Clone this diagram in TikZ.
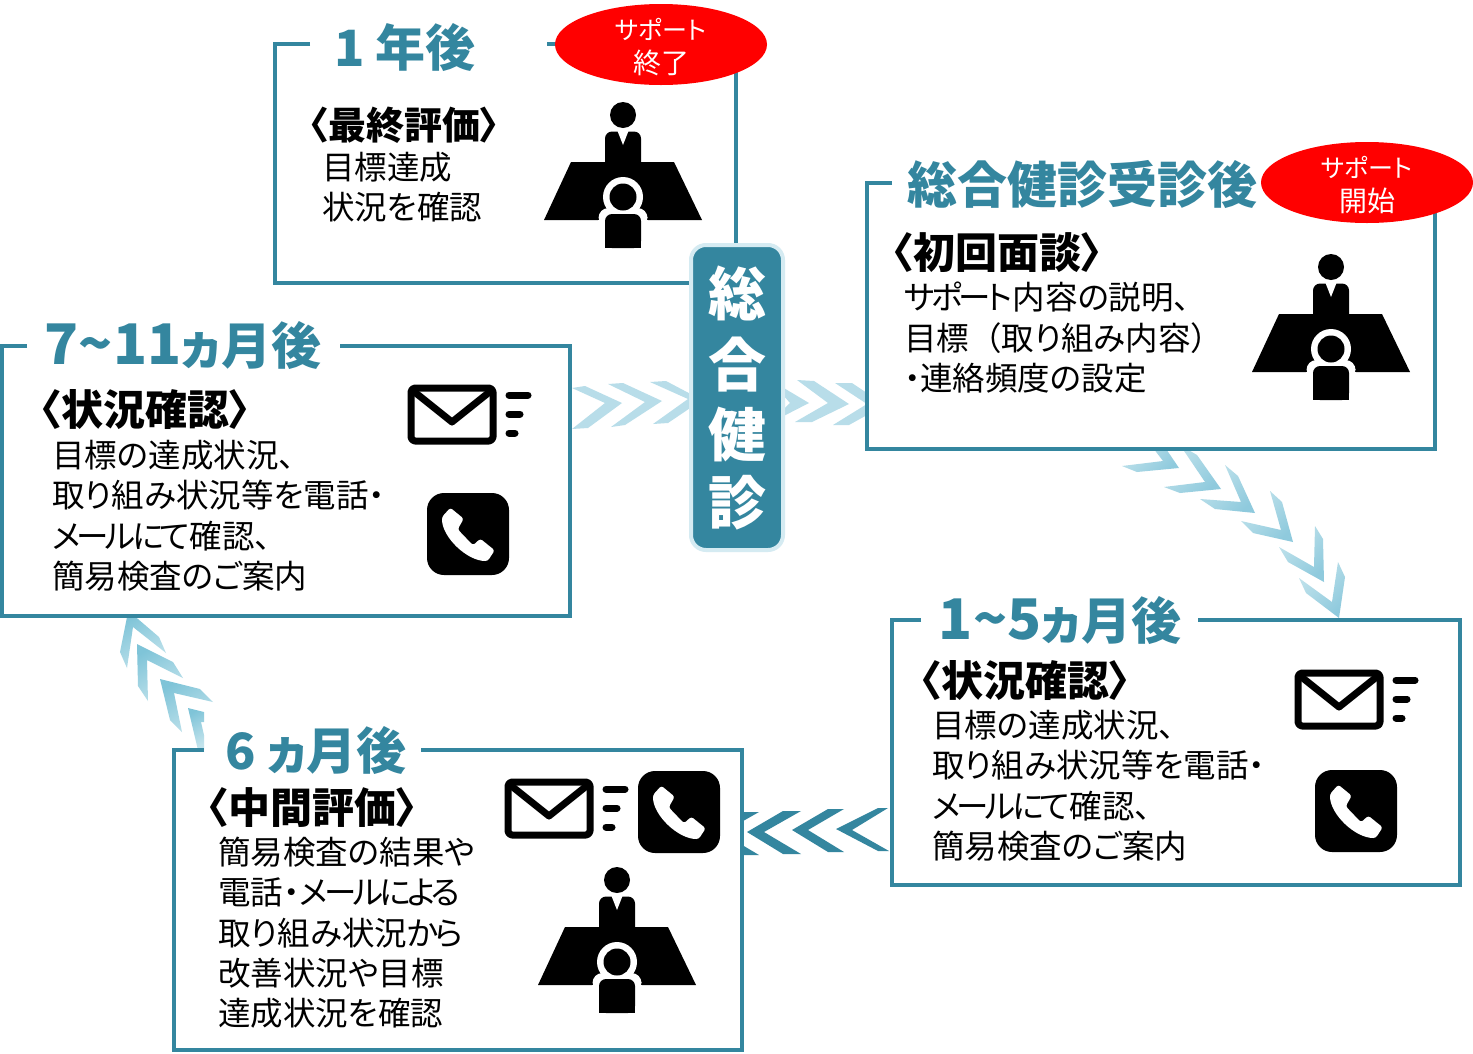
\documentclass[tikz,border=0pt]{standalone}
\usepackage{fontspec}
\setmainfont{Noto Sans CJK JP}[RawFeature={+palt}]
\definecolor{teal1}{HTML}{34869F}
\definecolor{pale}{HTML}{D5EBF2}
\definecolor{chevA}{HTML}{B8DDE9}
\definecolor{chevB}{HTML}{C2E3EC}
\definecolor{chevC}{HTML}{8FCADD}
\definecolor{chevD}{HTML}{7FC4D8}
\newcommand{\panelbox}[6]{%
  \fill[white] (#1,#2) rectangle (#3,#4);
  \draw[panelline] (#5,#2) -- (#1,#2) -- (#1,#4) -- (#3,#4) -- (#3,#2) -- (#6,#2);}
\newcommand{\biglatin}[1]{{\fontsize{56}{50}\selectfont #1}}
\newcommand{\kanasize}[1]{{\fontsize{25}{34.5}\selectfont #1}}
\newcommand{\fullw}[1]{{\addfontfeature{RawFeature=-palt}#1}}
\newcommand{\tight}[1]{{\addfontfeature{LetterSpace=-11}#1}}
\tikzset{
  panelline/.style={draw=teal1,line width=4pt,line cap=butt,line join=miter},
  chevflat/.style={fill=chevA},
  chevdiag/.style={left color=chevB,right color=chevC,shading angle=45},
  chevup/.style={left color=chevD,right color=chevB,shading angle=30},
  chevdark/.style={fill=teal1},
  headtext/.style={text=teal1,font=\fontsize{50}{50}\selectfont\bfseries,inner sep=0pt},
  titletext/.style={anchor=west,inner sep=0pt,font=\fontsize{42}{44}\selectfont\bfseries},
  titlesmall/.style={titletext,font=\fontsize{38}{40}\selectfont\bfseries},
  bodytext/.style={anchor=north west,align=left,inner sep=0pt,font=\fontsize{32.5}{40.3}\selectfont},
  badge/.style={ellipse,fill=red,inner sep=0pt,minimum width=212pt,minimum height=81pt},
  badgetext/.style={text=white,inner sep=0pt,align=center,font=\fontsize{28}{34.5}\selectfont},
  centretext/.style={text=white,inner sep=0pt,font=\fontsize{58}{58}\selectfont\bfseries},
  meeting/.pic={
    \fill[black] (0,0) circle (13);
    \fill[black,rounded corners=7pt] (-18,32) -- (-18,16.5) -- (18,16.5) -- (18,60) -- (-18,60) -- cycle;
    \fill[white] (-5.5,16) -- (0,30) -- (5.5,16) -- cycle;
    \fill[black] (-52,47) -- (51,47) -- (79,105) -- (-79,105) -- cycle;
    \fill[white] (0,82) circle (20);
    \fill[white,rounded corners=10pt] (-24.5,112) -- (-24.5,93) -- (24.5,93) -- (24.5,112) -- cycle;
    \fill[white] (-25,105) rectangle (25,112);
    \fill[black] (0,82) circle (13.5);
    \fill[black,rounded corners=7pt] (-18,133) -- (-18,99) -- (18,99) -- (18,133) -- cycle;
    \fill[black] (-18,120) rectangle (18,133);
  },
  mailicon/.pic={
    \draw[black,line width=7pt,rounded corners=4pt,line join=round] (4,4) rectangle (86,57);
    \draw[black,line width=7pt,line join=round] (5,6) -- (45,38) -- (85,6);
    \draw[black,line width=7pt,line cap=round] (102,11) -- (121,11);
    \draw[black,line width=7pt,line cap=round] (102,30) -- (113,30);
    \draw[black,line width=7pt,line cap=round] (102,49) -- (108,49);
  },
  phoneicon/.pic={
    \fill[black,rounded corners=17pt] (0,0) rectangle (82,82);
    \fill[white,rounded corners=2.5pt] (23.3,14.7) -- (36.7,25.7) -- (30.7,36.3) -- (46,52.3) -- (53.3,45.7) -- (67.7,57.3) -- (60.7,68)
       .. controls (40,68) and (15,44) .. (15,24) -- cycle;
  },
}
\usetikzlibrary{shapes.geometric}
\begin{document}
\begin{tikzpicture}[x=1pt,y=-1pt]
\useasboundingbox (0,0) rectangle (1473,1053);
\fill[white] (0,0) rectangle (1473,1053);

% chevrons: left panel to centre
\path[chevflat] (572,388) -- (585,386) -- (622,403) -- (588,428) -- (572,429) -- (605,403) -- cycle;
\path[chevflat] (608,384) -- (623,383) -- (662,401) -- (625,425) -- (611,427) -- (645,402) -- cycle;
\path[chevflat] (650,382) -- (666,381) -- (702,400) -- (668,423) -- (653,424) -- (688,399) -- cycle;
% centre to right panel
\path[chevflat] (770,380) -- (772,381) -- (809,403) -- (772,422) -- (770,422) -- (790,403) -- cycle;
\path[chevflat] (797,380) -- (814,381) -- (849,404) -- (812,422) -- (795,422) -- (828,403) -- cycle;
\path[chevflat] (835,383) -- (852,383) -- (885,405) -- (849,425) -- (833,425) -- (867,404) -- cycle;
% right panel to 1-5 months
\shade[chevdiag] (1122,466) -- (1137,472) -- (1179,468) -- (1160,440) -- (1147,440) -- (1163,461) -- cycle;
\shade[chevdiag] (1164,487) -- (1180,493) -- (1221,489) -- (1197,455) -- (1180,445) -- (1205,482) -- cycle;
\shade[chevdiag] (1200,499) -- (1215,509) -- (1255,513) -- (1238,476) -- (1225,465) -- (1241,502) -- cycle;
\shade[chevdiag] (1241,521) -- (1253,533) -- (1293,542) -- (1282,502) -- (1270,491) -- (1281,530) -- cycle;
\shade[chevdiag] (1279,547) -- (1288,562) -- (1324,582) -- (1323,539) -- (1315,526) -- (1314,567) -- cycle;
\shade[chevdiag] (1299,578) -- (1306,593) -- (1339,618) -- (1345,577) -- (1338,562) -- (1332,602) -- cycle;
% 1-5 months to 6 months
\path[chevdark] (878,808) -- (888,808) -- (852,830) -- (889,851) -- (878,851) -- (836,829) -- cycle;
\path[chevdark] (828,809) -- (844,809) -- (808,830) -- (844,852) -- (828,852) -- (792,830) -- cycle;
\path[chevdark] (783,811) -- (801,811) -- (764,832) -- (801,854) -- (783,854) -- (747,832) -- cycle;
\path[chevdark] (724,812) -- (759,812) -- (722,833) -- (759,855) -- (724,855) -- (700,833) -- cycle;
% 6 months to 7-11 months
\shade[chevup] (128,612) -- (138,619) -- (159,637) -- (166,653) -- (133,627) -- (127,668) -- (120,652) -- cycle;
\shade[chevup] (137,644) -- (173,662) -- (183,678) -- (147,660) -- (148,701) -- (138,686) -- cycle;
\shade[chevup] (160,679) -- (200,689) -- (213,702) -- (174,693) -- (182,732) -- (170,720) -- cycle;
\shade[chevup] (188,708) -- (204,712) -- (204,722) -- (201,722) -- (204,735) -- (204,750) -- (198,750) -- cycle;

% panels
\panelbox{275}{44}{736}{283}{310}{547}
\panelbox{867}{183}{1435}{449}{892}{1300}
\panelbox{892}{620}{1460}{885}{921}{1198}
\panelbox{174}{750}{742}{1050}{204}{421}
\panelbox{2}{346}{570}{616}{27}{340}

% headings
\node[headtext] (h1) at (405,47) {1 年後};
\node[headtext] (h2) at (1082,184) {総合健診受診後};
\node[headtext] (h3) at (1060,620) {\biglatin{1\symbol{126}5}ヵ月後};
\node[headtext] (h4) at (316,750) {6 ヵ月後};
\node[headtext] (h5) at (183,345) {\biglatin{7\symbol{126}11}ヵ月後};

% badges
\node[badge] (b1) at (661,44.5) {};
\node[badgetext] (bt1) at (661,47) {\kanasize{サポート}\\終了};
\node[badge] (b2) at (1367,182.5) {};
\node[badgetext] (bt2) at (1367,185) {\kanasize{サポート}\\開始};

% centre
\node[draw=pale,line width=4pt,fill=teal1,rounded corners=15pt,minimum width=92pt,minimum height=305pt,inner sep=0pt] (c) at (737,397.5) {};
\node[centretext] (c1) at (737,293) {総};
\node[centretext] (c2) at (737,365) {合};
\node[centretext] (c3) at (737,434) {健};
\node[centretext] (c4) at (737,503) {診};

% panel 1
\node[titlesmall] (t1) at (309,125) {〈最終評価〉};
\node[bodytext] (x1) at (322,152) {目標達成\\状況を確認};
\pic at (623,115) {meeting};
% panel 2
\node[titletext] (t2) at (892,253) {〈初回面談〉};
\node[bodytext] (x2) at (904,282) {\tight{サポート}内容の説明、\\目標\fullw{（}取り組み内容\fullw{）}\\・連絡頻度の設定};
\pic at (1331,267) {meeting};
% panel 3
\node[titletext] (t3) at (920,681) {〈状況確認〉};
\node[bodytext] (x3) at (932,710) {目標の達成状況、\\取\tight{り}組\tight{み}状況等\tight{を}電話・\\\tight{メールにて}確認、\\簡易検査のご案内};
\pic at (1294,669) {mailicon};
\pic at (1315,770) {phoneicon};
% panel 4
\node[titletext] (t4) at (207,808) {〈中間評価〉};
\node[bodytext] (x4) at (218,837) {簡易検査の結果や\\電話・\tight{メールによる}\\取\tight{り}組\tight{み}状況\tight{から}\\改善状況や目標\\達成状況を確認};
\pic at (504,778) {mailicon};
\pic at (638,771) {phoneicon};
\pic at (617,880) {meeting};
% panel 5
\node[titletext] (t5) at (40,410) {〈状況確認〉};
\node[bodytext] (x5) at (52,440) {目標の達成状況、\\取\tight{り}組\tight{み}状況等\tight{を}電話・\\\tight{メールにて}確認、\\簡易検査のご案内};
\pic at (407,384) {mailicon};
\pic at (427,493) {phoneicon};
\end{tikzpicture}
\end{document}
